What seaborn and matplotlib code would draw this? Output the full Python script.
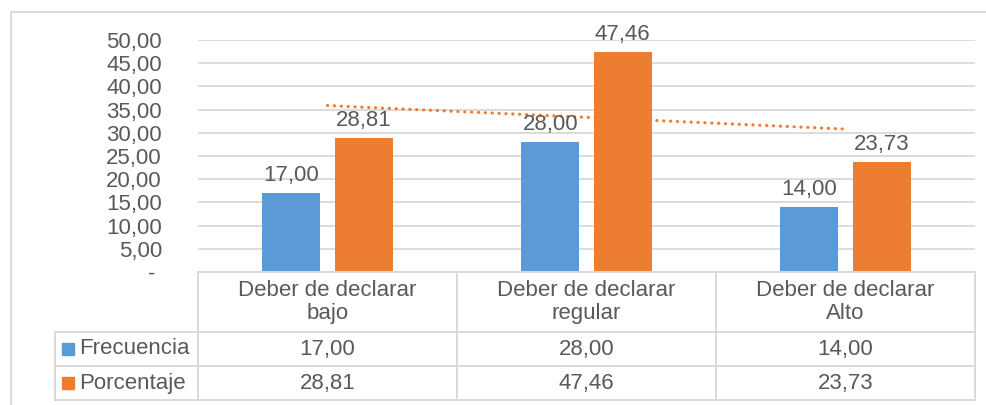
import matplotlib
matplotlib.use("Agg")
import matplotlib.pyplot as plt
import matplotlib.transforms as mtransforms
from matplotlib.lines import Line2D
from matplotlib.patches import Rectangle
import seaborn as sns
import pandas as pd
import numpy as np

# datos
categorias = ["Deber de declarar\nbajo", "Deber de declarar\nregular", "Deber de declarar\nAlto"]
series = ["Frecuencia", "Porcentaje"]
frecuencia = [17.00, 28.00, 14.00]
porcentaje = [28.81, 47.46, 23.73]
yticks = [0, 5, 10, 15, 20, 25, 30, 35, 40, 45, 50]

colores = ["#5B9BD5", "#ED7D31"]
gris_txt = "#595959"
gris_lin = "#d9d9d9"


def fmt(v):
    # formato contable de Excel: coma decimal, cero como guion
    if v == 0:
        return "- "
    return f"{v:.2f}".replace(".", ",")


sns.set_style("white")
plt.rcParams["font.family"] = ["Liberation Sans", "DejaVu Sans"]

df = pd.DataFrame({
    "categoria": categorias * 2,
    "serie": [series[0]] * 3 + [series[1]] * 3,
    "valor": frecuencia + porcentaje,
})

fig = plt.figure(figsize=(9.87, 4.05), dpi=100)
ax = fig.add_axes([198 / 987, 1 - 272 / 405, 777 / 987, 232 / 405])

sns.barplot(data=df, x="categoria", y="valor", hue="serie", order=categorias,
            hue_order=series, palette=colores, saturation=1, width=0.56, gap=0.2,
            linewidth=0, legend=False, ax=ax)

for cont in ax.containers:
    ax.bar_label(cont, labels=[fmt(v) for v in cont.datavalues], padding=5,
                 fontsize=16, color=gris_txt, clip_on=False)

# linea de tendencia lineal de Porcentaje
sns.regplot(x=np.arange(len(categorias)), y=porcentaje, scatter=False, ci=None,
            truncate=True, ax=ax,
            line_kws=dict(color="#ED7D31", lw=2.3, linestyle=(0, (0.05, 2.1)),
                          dash_capstyle="round"))

ax.set_xlim(-0.5, len(categorias) - 0.5)
ax.set_ylim(0, 50)
ax.set_yticks(yticks)
ax.set_yticklabels([fmt(v) for v in yticks])
ax.set_xticks([])
ax.set_xlabel("")
ax.set_ylabel("")
ax.yaxis.grid(True, color=gris_lin, lw=1.3)
ax.set_axisbelow(True)
sns.despine(ax=ax, left=True, bottom=True)
ax.tick_params(axis="y", length=0, pad=26, labelsize=16, labelcolor=gris_txt)

# tabla de datos (estilo Excel)
h0, h1, h2 = -60 / 232, -94 / 232, -128 / 232
leg_x = -143 / 777
blend = mtransforms.blended_transform_factory(ax.transData, ax.transAxes)


def linea(xs, ys, tr):
    ax.add_line(Line2D(xs, ys, transform=tr, color=gris_lin, lw=1.4, clip_on=False))


linea([0, 1], [0, 0], ax.transAxes)
for y in (h0, h1, h2):
    linea([leg_x, 1], [y, y], ax.transAxes)
linea([leg_x, leg_x], [h0, h2], ax.transAxes)
for i in range(len(categorias) + 1):
    linea([i - 0.5, i - 0.5], [0, h2], blend)

for i, cat in enumerate(categorias):
    ax.text(i, h0 / 2, cat, transform=blend, ha="center", va="center",
            fontsize=16, color=gris_txt, linespacing=1.15)
    ax.text(i, (h0 + h1) / 2, fmt(frecuencia[i]), transform=blend, ha="center",
            va="center", fontsize=16, color=gris_txt)
    ax.text(i, (h1 + h2) / 2, fmt(porcentaje[i]), transform=blend, ha="center",
            va="center", fontsize=16, color=gris_txt)

for k, (nombre, col) in enumerate(zip(series, colores)):
    yc = (h0 + h1) / 2 if k == 0 else (h1 + h2) / 2
    ax.add_patch(Rectangle((leg_x + 7 / 777, yc - 6 / 232), 12 / 777, 12 / 232,
                           transform=ax.transAxes, color=col, clip_on=False))
    ax.text(-119 / 777, yc, nombre, transform=ax.transAxes, ha="left", va="center",
            fontsize=16, color=gris_txt)

# marco exterior del grafico
fig.add_artist(Rectangle((11 / 987, -0.1), 1.2, 1.1 - 12 / 405, transform=fig.transFigure,
                         fill=False, ec=gris_lin, lw=1.3))

fig.savefig("out.png", dpi=100)
